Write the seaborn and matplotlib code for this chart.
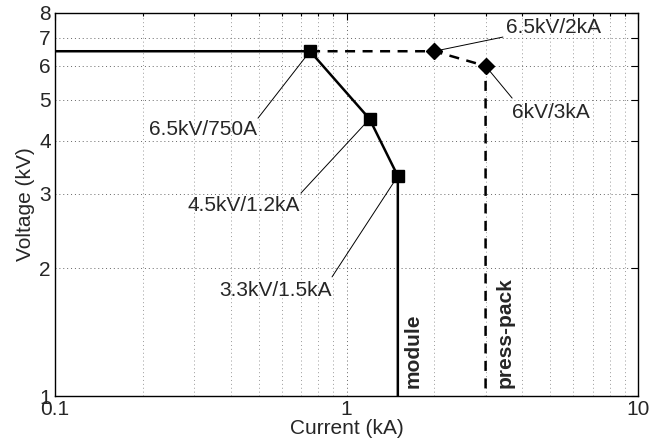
import numpy as np
import pandas as pd
import matplotlib
matplotlib.use("Agg")
import matplotlib.pyplot as plt
import seaborn as sns
from matplotlib.ticker import FixedLocator, NullFormatter, FixedFormatter

# datos
module_i = [0.1, 0.75, 1.2, 1.5, 1.5]
module_v = [6.5, 6.5, 4.5, 3.3, 1.0]
module_pts_i = [0.75, 1.2, 1.5]
module_pts_v = [6.5, 4.5, 3.3]

press_i = [0.75, 2.0, 3.0, 3.0]
press_v = [6.5, 6.5, 6.0, 1.0]
press_pts_i = [2.0, 3.0]
press_pts_v = [6.5, 6.0]

labels = ["6.5kV/750A", "4.5kV/1.2kA", "3.3kV/1.5kA", "6.5kV/2kA", "6kV/3kA"]
label_pts = [(0.75, 6.5), (1.2, 4.5), (1.5, 3.3), (2.0, 6.5), (3.0, 6.0)]

y_ticks = [1, 2, 3, 4, 5, 6, 7, 8]
x_ticks = [0.1, 1, 10]
x_tick_labels = ["0.1", "1", "10"]

# posiciones de texto y de fin de la linea guia (coordenadas de datos)
text_pos = [(0.321, 4.24), (0.445, 2.82), (0.571, 1.778), (5.11, 7.41), (5.03, 4.65)]
line_end = [(0.497, 4.52), (0.698, 3.01), (0.892, 1.909), (3.44, 7.02), (3.70, 5.04)]

sns.set_style("white")
plt.rcParams['font.family'] = ['Liberation Sans', 'DejaVu Sans']
fs = 15

fig = plt.figure(figsize=(6.49, 4.46), dpi=100)
ax = fig.add_axes([55 / 649, 1 - 396 / 446, 583 / 649, 383 / 446])

df_mod = pd.DataFrame({"i": module_i, "v": module_v})
df_pp = pd.DataFrame({"i": press_i, "v": press_v})

sns.lineplot(data=df_mod, x="i", y="v", sort=False, estimator=None, ax=ax,
             color="black", lw=1.8, zorder=3)
sns.lineplot(data=df_pp, x="i", y="v", sort=False, estimator=None, ax=ax,
             color="black", lw=1.8, linestyle=(0, (4, 3)), zorder=3)
ax.plot(module_pts_i, module_pts_v, ls="none", marker="s", ms=8, color="black", zorder=4)
ax.plot(press_pts_i, press_pts_v, ls="none", marker="D", ms=8, color="black", zorder=4)

ax.set_xscale("log")
ax.set_yscale("log")
ax.set_xlim(0.1, 10)
ax.set_ylim(1, 8)

ax.xaxis.set_major_locator(FixedLocator(x_ticks))
ax.xaxis.set_major_formatter(FixedFormatter(x_tick_labels))
minors = [m * d for d in [0.1, 1] for m in range(2, 10)]
ax.xaxis.set_minor_locator(FixedLocator(minors))
ax.xaxis.set_minor_formatter(NullFormatter())
ax.yaxis.set_major_locator(FixedLocator(y_ticks))
ax.yaxis.set_major_formatter(FixedFormatter([str(t) for t in y_ticks]))
ax.yaxis.set_minor_locator(FixedLocator([]))

ax.tick_params(which="both", direction="in", top=True, right=True,
               labelsize=fs, color="black", width=0.8)
ax.tick_params(which="major", length=5, pad=3)
ax.tick_params(which="minor", length=2.5)

ax.grid(which="major", linestyle=(0, (1, 3)), color="0.4", lw=0.7)
ax.grid(which="minor", axis="x", linestyle=(0, (1, 3)), color="0.6", lw=0.7)

for sp in ax.spines.values():
    sp.set_color("black")
    sp.set_linewidth(1.0)

for lab, pt, tp, le in zip(labels, label_pts, text_pos, line_end):
    ax.annotate("", xy=pt, xytext=le,
                arrowprops=dict(arrowstyle="-", lw=0.7, color="black",
                                shrinkA=0, shrinkB=0), zorder=2)
    ax.text(tp[0], tp[1], lab, fontsize=fs, ha="center", va="center")

ax.text(1.69, 1.044, "module", rotation=90, fontsize=fs, fontweight="bold",
        ha="center", va="bottom")
ax.text(3.50, 1.044, "press-pack", rotation=90, fontsize=fs, fontweight="bold",
        ha="center", va="bottom")

ax.set_xlabel("Current (kA)", fontsize=fs, labelpad=0)
ax.set_ylabel("Voltage (kV)", fontsize=fs, labelpad=3)

fig.savefig("out.png", dpi=100)
